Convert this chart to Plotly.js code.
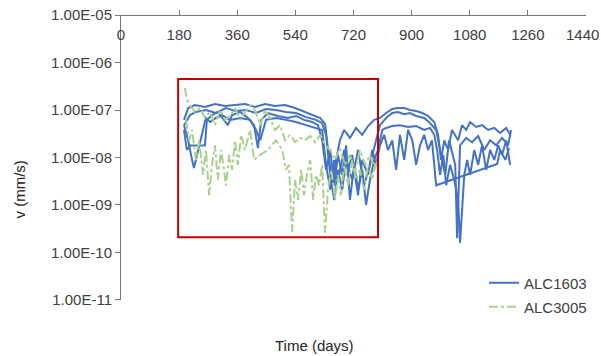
<!DOCTYPE html>
<html><head><meta charset="utf-8">
<script src="https://cdn.plot.ly/plotly-3.0.1.min.js"></script>
<style>html,body{margin:0;padding:0;background:#fff;}#chart{width:601px;height:356px;}</style>
</head><body><div id="chart"></div>
<script>
// ALC1603 (several overlapping records)
const b1Days = [195,208,229,260,291,322,353,384,415,446,477,508,539,570,601,617,632,641,654,666,678,691,709,728,747,765,784,802,821,840,858,877,895,914,933,951,970,982,991,1001,1013,1025,1044,1056,1069,1081,1100,1118,1137,1156,1174,1193,1205];
const b1V = [6.2e-8,1.1e-7,1.27e-7,1.16e-7,1.34e-7,1.21e-7,1.27e-7,1.34e-7,1.16e-7,1.34e-7,1.21e-7,1.27e-7,1.1e-7,9.1e-8,7.5e-8,6.8e-8,5.1e-8,1.44e-8,2.6e-9,8.9e-9,2.3e-8,3.8e-8,2.58e-8,4.2e-8,3.0e-8,4.6e-8,6.2e-8,6.8e-8,8.65e-8,1.05e-7,1.1e-7,1.1e-7,1.0e-7,9.5e-8,8.65e-8,7.5e-8,5.6e-8,3.0e-8,8.9e-9,2.3e-8,1.44e-8,3.8e-8,2.3e-8,4.8e-8,3.8e-8,5.6e-8,4.4e-8,4.8e-8,3.8e-8,4.2e-8,3.3e-8,4.2e-8,3.0e-8];

const b2Days = [195,214,232,263,294,325,356,387,418,449,480,511,542,573,604,623,635,648,660,672,685,697,716,734,753,771,790,802,821,840,858,877,895,914,939,957,976,988,1004,1016,1035,1041,1050,1069,1087,1106,1125,1143,1162,1180,1199,1208];
const b2V = [4.8e-8,7.85e-8,9.1e-8,1.0e-7,8.65e-8,1.1e-7,9.5e-8,1.0e-7,8.65e-8,1.05e-7,1.0e-7,9.1e-8,8.65e-8,7.1e-8,6.2e-8,5.3e-8,3.0e-8,4.3e-9,1.27e-9,5.5e-9,2.1e-9,8.9e-9,3.4e-9,1.44e-8,2.6e-9,7.0e-9,2.3e-8,4.8e-8,6.8e-8,8.65e-8,9.1e-8,8.2e-8,8.65e-8,7.5e-8,6.8e-8,5.3e-8,3.8e-8,1.44e-8,4.3e-9,2.3e-8,7.0e-9,2.0e-10,1.8e-8,2.58e-8,2.1e-8,2.84e-8,1.44e-8,2.3e-8,1.8e-8,2.58e-8,1.8e-8,3.8e-8];

const b3Days = [195,204,214,245,260,266,282,300,313,331,344,369,393,412,424,434,455,486,517,542,567,592,610,623,635,648,660,672,685,697,709,722,734,747,759,771,784,796,809,821,840,864,889,914,939,957,970,979,988,998,1007,1019,1032,1044,1050,1056,1063,1072,1081,1094,1106,1118,1131,1143,1156,1168,1180,1193,1205];
const b3V = [3.8e-8,1.44e-8,1.8e-8,1.8e-8,1.8e-8,6.2e-8,7.85e-8,9.1e-8,6.8e-8,4.8e-8,7.85e-8,9.1e-8,6.8e-8,4.8e-8,1.58e-8,6.2e-8,8.65e-8,7.5e-8,6.8e-8,7.5e-8,6.2e-8,5.6e-8,4.8e-8,2.3e-8,5.5e-9,1.44e-8,2.6e-9,1.13e-8,4.3e-9,1.8e-8,1.27e-9,7.0e-9,2.1e-9,5.5e-9,1.0e-9,3.4e-9,8.9e-9,1.44e-8,3.8e-8,4.2e-8,4.6e-8,4.8e-8,4.4e-8,4.6e-8,3.8e-8,4.2e-8,3.0e-8,1.44e-8,4.3e-9,1.13e-8,2.6e-9,7.0e-9,3.4e-9,1.27e-9,1.58e-10,7.9e-10,4.3e-9,8.9e-9,4.3e-9,1.44e-8,7.0e-9,1.8e-8,5.5e-9,1.44e-8,8.9e-9,1.8e-8,1.13e-8,2.3e-8,7.0e-9];

const b4Days = [195,208,220,226,239,251,263,276,294,313,338,369,400,418,431,449,480,511,542,573,604,623,635,648,660,672,691,703,716,734,747,765,778,790,802,815,827,840,852,864,877,889,902,914,926,939,951,963,976,1165,1174,1190,1202];
const b4V = [4.8e-8,2.3e-8,8.9e-9,6.0e-9,1.44e-8,3.0e-8,6.8e-8,5.6e-8,6.8e-8,7.85e-8,6.2e-8,6.8e-8,6.2e-8,3.8e-8,2.3e-8,6.2e-8,6.8e-8,6.2e-8,5.6e-8,4.8e-8,4.2e-8,3.8e-8,7.0e-9,2.1e-9,8.9e-9,3.4e-9,1.44e-8,5.5e-9,1.13e-8,1.6e-9,8.9e-9,4.3e-9,1.44e-8,7.0e-9,1.8e-8,3.0e-8,1.44e-8,2.3e-8,5.5e-9,3.0e-8,8.9e-9,3.8e-8,2.3e-8,7.0e-9,1.8e-8,3.0e-8,1.44e-8,2.3e-8,2.6e-9,7.3e-9,1.44e-8,8.9e-9,1.58e-8];

// ALC3005
const g1Days = [198,204,214,229,245,260,276,291,307,322,338,353,369,384,400,415,431,446,462,477,493,508,524,539,555,570,586,601,617,632,648,663,678,694,709,725,740,756,771,787,796];
const g1V = [2.9e-7,1.63e-7,1.27e-7,9.1e-8,1.1e-7,6.8e-8,9.1e-8,4.8e-8,1.0e-7,6.2e-8,7.85e-8,1.1e-7,6.2e-8,9.1e-8,1.27e-7,1.0e-7,4.8e-8,1.0e-7,6.8e-8,3.8e-8,4.8e-8,2.3e-8,3.0e-8,2.1e-8,2.58e-8,2.3e-8,2.84e-8,2.1e-8,3.0e-8,1.8e-8,1.44e-8,8.9e-9,1.58e-8,7.0e-9,1.13e-8,4.95e-9,1.44e-8,7.0e-9,1.13e-8,5.5e-9,8.9e-9];

const g2Days = [201,211,220,232,242,254,263,273,282,291,300,310,319,325,335,344,353,362,372,384,400,412,431,455,480,499,511,520,530,539,548,558,567,576,586,595,604,613,623,632,641,651,663,672,681,691,703,716,728,740,753,765,778,790];
const g2V = [6.2e-8,2.3e-8,3.8e-8,8.9e-9,2.3e-8,4.3e-9,1.44e-8,1.6e-9,7.0e-9,1.8e-8,3.4e-9,1.44e-8,5.5e-9,2.6e-9,1.13e-8,5.5e-9,2.3e-8,7.0e-9,3.0e-8,1.44e-8,3.8e-8,8.9e-9,1.13e-8,1.44e-8,2.3e-8,1.44e-8,5.5e-9,7.0e-9,2.7e-10,3.4e-9,1.27e-9,5.5e-9,1.6e-9,4.3e-9,8.9e-9,1.27e-9,4.3e-9,2.6e-9,7.0e-9,2.6e-10,2.1e-9,5.5e-9,1.27e-9,4.3e-9,1.6e-9,7.0e-9,2.6e-9,8.9e-9,3.4e-9,5.5e-9,2.1e-9,7.0e-9,3.4e-9,8.9e-9];

const xTicks = [0,180,360,540,720,900,1080,1260,1440];
const xTickLabels = ['0','180','360','540','720','900','1080','1260','1440'];
const yTickVals = [1e-5,1e-6,1e-7,1e-8,1e-9,1e-10,1e-11];
const yTickText = ['1.00E-05','1.00E-06','1.00E-07','1.00E-08','1.00E-09','1.00E-10','1.00E-11'];
const highlightDays = [177, 796];
const highlightV = [2.1e-10, 4.5e-7];

const BLUE = '#4472C4', GREEN = '#A9D18E';
const blueSets = [[b1Days,b1V],[b2Days,b2V],[b3Days,b3V],[b4Days,b4V]];
const traces = [];
blueSets.forEach((s,i)=>traces.push({x:s[0],y:s[1],type:'scatter',mode:'lines',name:'ALC1603',
  line:{color:BLUE,width:2},showlegend:i===0,legend:'legend',hoverinfo:'skip'}));
[[g1Days,g1V],[g2Days,g2V]].forEach((s,i)=>traces.push({x:s[0],y:s[1],type:'scatter',mode:'lines',name:'ALC3005',
  line:{color:GREEN,width:2,dash:'dashdot'},showlegend:i===0,legend:'legend2',hoverinfo:'skip'}));

const F = 'Liberation Sans, Arial, sans-serif';
const last = xTickLabels.length - 1;
const legBase = {xanchor:'left',yanchor:'middle',bgcolor:'rgba(0,0,0,0)',font:{family:F,size:15,color:'#404040'}};
const layout = {
  width:601,height:356,margin:{l:121,r:0,t:15,b:30},
  paper_bgcolor:'#fff',plot_bgcolor:'#fff',
  font:{family:F,size:15,color:'#404040'},
  xaxis:{domain:[0,0.96875],range:[-0.01,1440.01],tickvals:xTicks,
    ticktext:xTickLabels.map((t,i)=>i===last?'':t),
    anchor:'free',position:1,side:'bottom',ticks:'inside',ticklen:5,
    ticklabelstandoff:6,automargin:false,
    tickcolor:'#777',showline:true,linecolor:'#777',linewidth:1,showgrid:false,zeroline:false,
    tickfont:{family:F,size:15,color:'#404040'}},
  yaxis:{domain:[0.0836,1],type:'log',range:[-11.002,-4.998],tickvals:yTickVals,ticktext:yTickText,ticks:'outside',ticklen:5,
    automargin:false,
    tickcolor:'#777',showline:true,linecolor:'#777',linewidth:1,showgrid:false,zeroline:false,
    tickfont:{family:F,size:15,color:'#404040'}},
  showlegend:true,
  legend:Object.assign({x:0.7563,y:0.1383},legBase),
  legend2:Object.assign({x:0.7563,y:0.0611},legBase),
  shapes:[{type:'rect',xref:'x',yref:'y',x0:highlightDays[0],x1:highlightDays[1],
    y0:highlightV[0],y1:highlightV[1],line:{color:'#C00000',width:2},layer:'above'}],
  annotations:[
    {text:xTickLabels[last],xref:'paper',yref:'paper',x:1,y:0.9389,xanchor:'right',yanchor:'middle',showarrow:false,font:{family:F,size:15,color:'#404040'}},
    {text:'Time (days)',xref:'paper',yref:'paper',x:0.404,y:-0.0611,xanchor:'center',yanchor:'middle',showarrow:false,font:{family:F,size:15,color:'#262626'}},
    {text:'v (mm/s)',xref:'paper',yref:'paper',x:-0.2333,y:0.4373,xanchor:'left',yanchor:'middle',textangle:-90,showarrow:false,font:{family:F,size:15,color:'#262626'}}
  ]
};
Plotly.newPlot('chart',traces,layout,{staticPlot:true,displayModeBar:false});
</script></body></html>
